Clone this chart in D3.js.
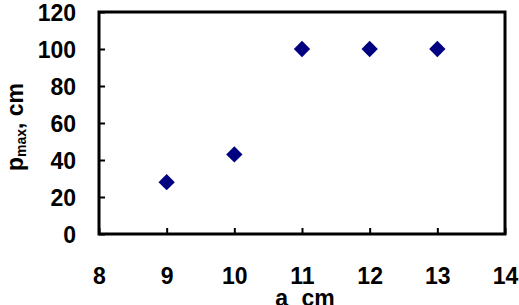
<!DOCTYPE html>
<html>
<head>
<meta charset="utf-8">
<script src="https://cdn.jsdelivr.net/npm/d3@7"></script>
<style>
  body { margin: 0; background: #fff; }
  text { font-family: Arial, "Liberation Sans", sans-serif; font-weight: bold; fill: #000; }
</style>
</head>
<body>
<svg id="chart" width="519" height="305"></svg>
<script>
// data
const aValues = [9, 10, 11, 12, 13];
const pMax = [28, 43, 100, 100, 100];
const xTicks = [8, 9, 10, 11, 12, 13, 14];
const yTicks = [0, 20, 40, 60, 80, 100, 120];

const svg = d3.select('#chart');
const margin = { left: 99, top: 12, right: 14, bottom: 71 };
const W = 519, H = 305;
const fs = 23;

const x = d3.scaleLinear().domain([8, 14]).range([margin.left, W - margin.right]);
const y = d3.scaleLinear().domain([0, 120]).range([H - margin.bottom, margin.top]);

// ticks inside the frame
const xAxis = svg.append('g')
    .attr('transform', `translate(0,${y(0)})`)
    .call(d3.axisBottom(x).tickValues(xTicks).tickFormat(d3.format('d'))
      .tickSizeInner(-6).tickSizeOuter(0).tickPadding(34));
const yAxis = svg.append('g')
    .attr('transform', `translate(${x(8)},0)`)
    .call(d3.axisLeft(y).tickValues(yTicks).tickFormat(d3.format('d'))
      .tickSizeInner(-6).tickSizeOuter(0).tickPadding(23));

[xAxis, yAxis].forEach(g => {
  g.attr('font-size', fs).attr('font-family', null);
  g.select('.domain').remove();
  g.selectAll('line').attr('stroke', '#000').attr('stroke-width', 2);
  g.selectAll('text').attr('font-size', fs).attr('font-weight', 'bold').attr('fill', '#000');
});
xAxis.selectAll('text').attr('dy', '0.71em');
yAxis.selectAll('text').attr('dy', '0.36em');

// frame
svg.append('rect')
    .attr('x', x(8)).attr('y', y(120))
    .attr('width', x(14) - x(8)).attr('height', y(0) - y(120))
    .attr('fill', 'none').attr('stroke', '#000').attr('stroke-width', 3);

// points
svg.append('g').selectAll('path')
  .data(aValues)
  .join('path')
    .attr('d', d3.symbol(d3.symbolDiamond2, 170))
    .attr('transform', (d, i) => `translate(${x(d)},${y(pMax[i])})`)
    .attr('fill', '#000080');

// axis titles
const xt = svg.append('text')
    .attr('x', (x(8) + x(14)) / 2 + 3).attr('y', 306)
    .attr('text-anchor', 'middle').attr('font-size', fs);
xt.append('tspan').text('a');
xt.append('tspan').attr('font-size', 13).attr('dy', 3).text(' ,');
xt.append('tspan').attr('dy', -3).text(' cm');

const yt = svg.append('text')
    .attr('transform', `translate(23,${(y(0) + y(120)) / 2 + 4}) rotate(-90)`)
    .attr('text-anchor', 'middle').attr('font-size', fs);
yt.append('tspan').text('p');
yt.append('tspan').attr('font-size', 14).attr('dy', 3).text('max');
yt.append('tspan').attr('dy', -3).text(', cm');
</script>
</body>
</html>
